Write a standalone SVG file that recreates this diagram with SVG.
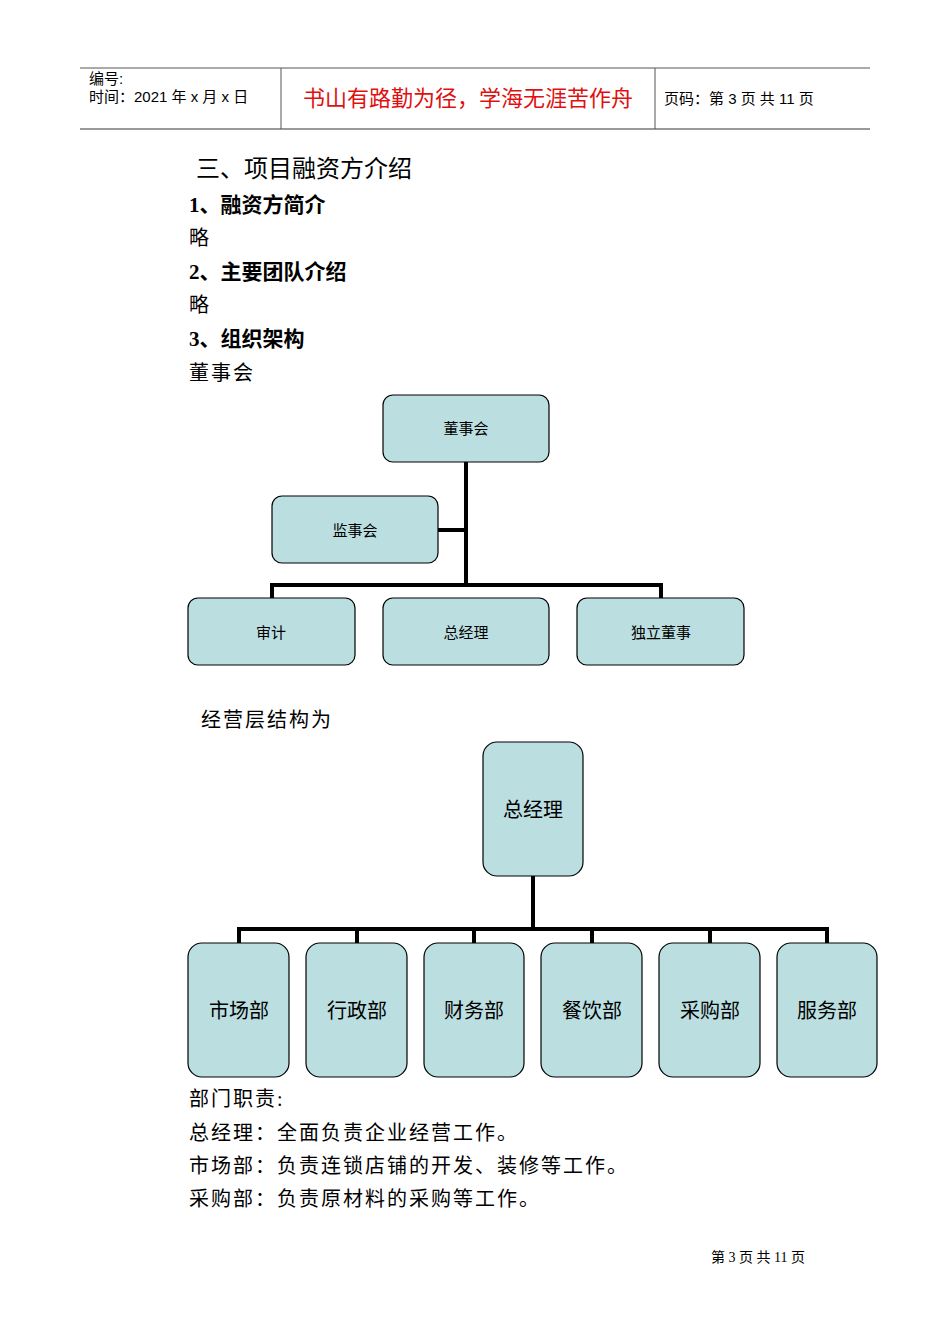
<svg xmlns="http://www.w3.org/2000/svg" width="950" height="1344" viewBox="0 0 950 1344">
<style>
.n{fill:#bbdfe1;stroke:#000;stroke-width:1.2}
.c{stroke:#000;stroke-width:4;fill:none}
.t{font-family:"Liberation Serif","Noto Sans CJK SC",serif;fill:#000}
.h{font-family:"Liberation Sans","Noto Sans CJK SC",sans-serif;fill:#000}
.s{font-size:15px;text-anchor:middle}
.b{font-size:20px;text-anchor:middle}
</style>
<rect width="950" height="1344" fill="#fff"/>
<g id="header">
<line x1="80" y1="68" x2="870" y2="68" stroke="#555" stroke-width="1"/>
<line x1="80" y1="129" x2="870" y2="129" stroke="#999" stroke-width="2"/>
<line x1="281" y1="68" x2="281" y2="129" stroke="#555"/>
<line x1="655" y1="68" x2="655" y2="129" stroke="#555"/>
<text class="h" x="89" y="84" font-size="15">编号:</text>
<text class="h" x="89" y="102" font-size="15">时间：2021 年 x 月 x 日</text>
<text class="h" x="468" y="106" font-size="22" fill="#e01010" text-anchor="middle" style="fill:#e01010">书山有路勤为径，学海无涯苦作舟</text>
<text class="h" x="664" y="104" font-size="15">页码：第 3 页 共 11 页</text>
</g>
<text class="h" x="196" y="177" font-size="24">三、项目融资方介绍</text>
<text class="t" x="189" y="212" font-size="21" font-weight="bold">1、融资方简介</text>
<text class="t" x="189" y="245" font-size="20">略</text>
<text class="t" x="189" y="279" font-size="21" font-weight="bold">2、主要团队介绍</text>
<text class="t" x="189" y="312" font-size="20">略</text>
<text class="t" x="189" y="346" font-size="21" font-weight="bold">3、组织架构</text>
<text class="t" x="189" y="380" font-size="20" letter-spacing="2">董事会</text>
<g id="connectors">
<path class="c" d="M466 462V585M438 530H466M272 598V585H661V598"/>
<path class="c" d="M533 876V929M239 943V929H827V943M357 929V943M474 929V943M592 929V943M710 929V943"/>
</g>
<g id="n1"><rect class="n" x="383" y="395" width="166" height="67" rx="10"/><text class="t s" x="466" y="434">董事会</text></g>
<g id="n2"><rect class="n" x="272" y="496" width="166" height="67" rx="10"/><text class="t s" x="355" y="536">监事会</text></g>
<g id="n3"><rect class="n" x="188" y="598" width="167" height="67" rx="10"/><text class="t s" x="271" y="638">审计</text></g>
<g id="n4"><rect class="n" x="383" y="598" width="166" height="67" rx="10"/><text class="t s" x="466" y="638">总经理</text></g>
<g id="n5"><rect class="n" x="577" y="598" width="167" height="67" rx="10"/><text class="t s" x="661" y="638">独立董事</text></g>
<text class="t" x="201" y="727" font-size="20" letter-spacing="2">经营层结构为</text>
<g id="m0"><rect class="n" x="483" y="742" width="100" height="134" rx="14"/><text class="t b" x="533" y="817">总经理</text></g>
<g id="m1"><rect class="n" x="188" y="943" width="101" height="134" rx="14"/><text class="t b" x="239" y="1018">市场部</text></g>
<g id="m2"><rect class="n" x="306" y="943" width="101" height="134" rx="14"/><text class="t b" x="357" y="1018">行政部</text></g>
<g id="m3"><rect class="n" x="424" y="943" width="100" height="134" rx="14"/><text class="t b" x="474" y="1018">财务部</text></g>
<g id="m4"><rect class="n" x="541" y="943" width="101" height="134" rx="14"/><text class="t b" x="592" y="1018">餐饮部</text></g>
<g id="m5"><rect class="n" x="659" y="943" width="101" height="134" rx="14"/><text class="t b" x="710" y="1018">采购部</text></g>
<g id="m6"><rect class="n" x="777" y="943" width="100" height="134" rx="14"/><text class="t b" x="827" y="1018">服务部</text></g>
<g class="t" font-size="20" letter-spacing="2">
<text x="189" y="1106">部门职责:</text>
<text x="189" y="1140">总经理：全面负责企业经营工作。</text>
<text x="189" y="1173">市场部：负责连锁店铺的开发、装修等工作。</text>
<text x="189" y="1206">采购部：负责原材料的采购等工作。</text>
</g>
<text class="t" x="758" y="1262" font-size="14" text-anchor="middle">第 3 页 共 11 页</text>
</svg>
